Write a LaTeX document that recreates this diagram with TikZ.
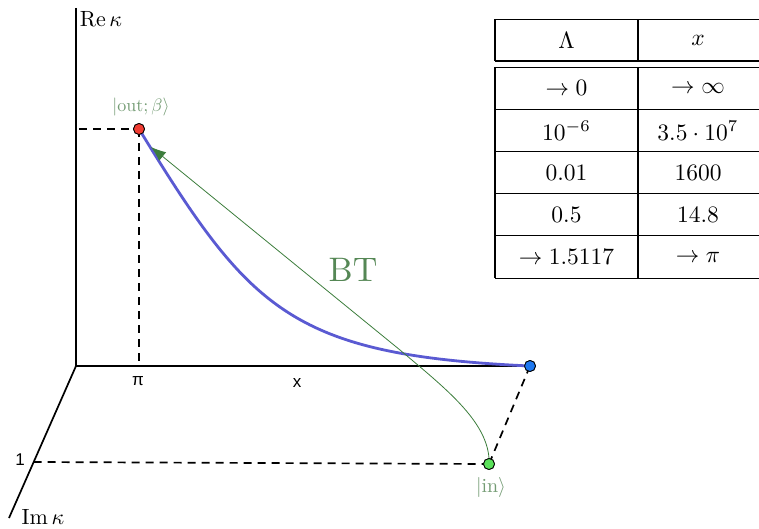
\documentclass[tikz,border=0pt]{standalone}
\usepackage{fontspec}
\newfontfamily\axfont{Liberation Sans}
\usetikzlibrary{arrows.meta}
\definecolor{lblgreen}{RGB}{115,155,115}
\definecolor{btgreen}{RGB}{85,135,85}
\definecolor{arrgreen}{RGB}{60,125,60}
\definecolor{curveblue}{RGB}{90,90,210}
\definecolor{dotred}{RGB}{240,60,50}
\definecolor{dotblue}{RGB}{30,120,240}
\definecolor{dotgreen}{RGB}{90,225,90}
\begin{document}
\begin{tikzpicture}[x=1pt,y=-1pt,
  axis/.style={line width=1.7pt},
  dashline/.style={line width=1.7pt, dash pattern=on 8pt off 6pt},
  dot/.style={circle, draw=black, line width=0.8pt, inner sep=0pt, minimum size=11pt},
  ticklbl/.style={font=\axfont, scale=1.7, inner sep=0pt},
  axlbl/.style={scale=2.2, inner sep=0pt},
  statelbl/.style={text=lblgreen, inner sep=0pt},
  cell/.style={scale=2.35, inner sep=0pt},
  tline/.style={line width=1.1pt}
]
\useasboundingbox (0,0) rectangle (759,529);
% axes
\coordinate (O) at (76,366);
\coordinate (ReEnd) at (76,8);
\coordinate (ImEnd) at (9,518);
\coordinate (Xend) at (530,366);
\coordinate (One) at (33.7,462);
\coordinate (ReTick) at (79,129);
\coordinate (PiTick) at (139,366);
\draw[axis] (ReEnd) -- (O) -- (Xend);
\draw[axis] (O) -- (ImEnd);
\node[axlbl] (relbl) at (101,19) {$\mathrm{Re}\,\kappa$};
\node[axlbl] (imlbl) at (43,517) {$\mathrm{Im}\,\kappa$};
\node[ticklbl] (pilbl) at (138,381) {π};
\node[ticklbl] (xlbl) at (297,383) {x};
\node[ticklbl] (onelbl) at (20,460) {1};
% dots
\node[dot, fill=dotred] (out) at (139,129) {};
\node[dot, fill=dotblue] (blue) at (530,366) {};
\node[dot, fill=dotgreen] (in) at (489,464) {};
% dashed
\draw[dashline] (ReTick) -- (out.center);
\draw[dashline] (out.center) -- (PiTick);
\draw[dashline] (One) -- (in.center);
\draw[dashline] (blue.center) -- (in.center);
% curves
\draw[curveblue, line width=2.8pt] (out.center) .. controls (250,310) and (290,355) .. (blue.center);
\coordinate (mid) at (400,350);
\coordinate (tip) at (151,147);
\draw[arrgreen, line width=0.8pt, -{Latex[length=15pt,width=11pt]}] (in.north) .. controls (486,420) and (445,388) .. (mid) -- (tip);
\node[dot, fill=dotred] at (out) {};
\node[dot, fill=dotblue] at (blue) {};
\node[dot, fill=dotgreen] at (in) {};
% labels
\node[statelbl, scale=1.8] (outlbl) at (141,107) {$|\mathrm{out};\beta\rangle$};
\node[statelbl, scale=2.0] (inlbl) at (491,487) {$|\mathrm{in}\rangle$};
\node[text=btgreen, scale=3.4, inner sep=0pt] (bt) at (353,270) {BT};
% table
\foreach \y in {19.3,61,67.3,109.3,151.7,193.3,235.7,278.3}
  \draw[tline] (495,\y) -- (759,\y);
\draw[tline] (495,19.3) -- (495,61);
\draw[tline] (638,19.3) -- (638,61);
\draw[tline] (495,67.3) -- (495,278.3);
\draw[tline] (638,67.3) -- (638,278.3);
\node[cell] (h1) at (566.5,40) {$\Lambda$};
\node[cell] (h2) at (698,40) {$x$};
\node[cell] (a1) at (566.5,88.3) {$\to 0$};
\node[cell] (a2) at (698,88.3) {$\to \infty$};
\node[cell] (b1) at (566.5,130.5) {$10^{-6}$};
\node[cell] (b2) at (698,130.5) {$3.5\cdot 10^{7}$};
\node[cell] (c1) at (566.5,172.5) {$0.01$};
\node[cell] (c2) at (698,172.5) {$1600$};
\node[cell] (d1) at (566.5,214.5) {$0.5$};
\node[cell] (d2) at (698,214.5) {$14.8$};
\node[cell] (e1) at (566.5,257) {$\to 1.5117$};
\node[cell] (e2) at (698,257) {$\to \pi$};
\end{tikzpicture}
\end{document}
